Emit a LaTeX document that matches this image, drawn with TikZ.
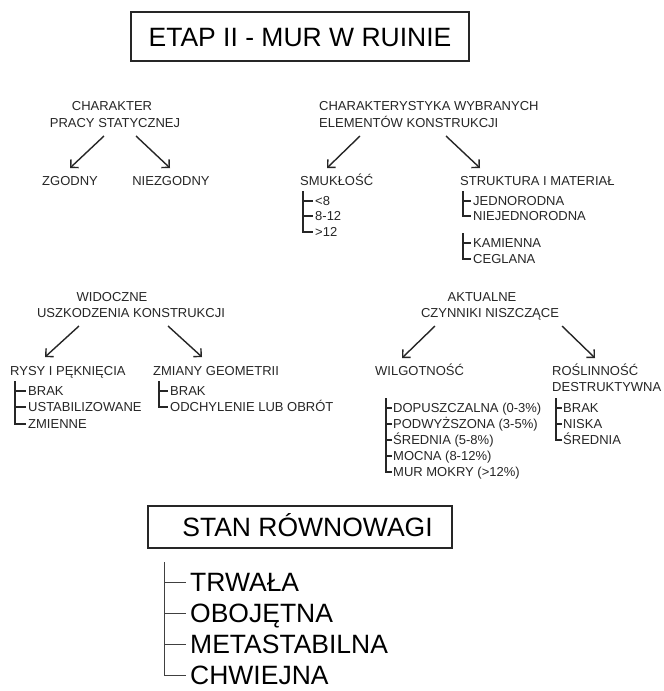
\documentclass[tikz,border=0pt]{standalone}
\usepackage{fontspec}
\setmainfont{Liberation Sans}
\usetikzlibrary{arrows.meta}
\begin{document}
\begin{tikzpicture}[x=1pt,y=-1pt,
  sm/.style={font=\fontsize{13}{15}\selectfont, text=black!85, inner sep=0pt, text height=9.3pt, text depth=0pt},
  big/.style={font=\fontsize{26.5}{30}\selectfont, text=black, inner sep=0pt, text height=19pt, text depth=0pt},
  box/.style={draw=black!85, line width=1.5pt},
  arr/.style={line width=1.4pt, draw=black!85, -{Straight Barb[angle=90:8pt]}},
  br/.style={line width=1.4pt, draw=black!85},
  brbig/.style={line width=1pt, draw=black!75},
  lw/.style={anchor=west}]
\useasboundingbox (0,0) rectangle (664,691);
\fill[white] (0,0) rectangle (664,691);

% title
\node[big, box, minimum width=338pt, minimum height=49pt] (title) at (300,36.5) {ETAP II - MUR W RUINIE};

% group 1
\node[sm] (ch1) at (112,106) {CHARAKTER};
\node[sm] (ch2) at (115,123) {PRACY STATYCZNEJ};
\node[sm] (zg) at (70,181) {ZGODNY};
\node[sm] (nzg) at (171,181) {NIEZGODNY};
\coordinate (a1s) at (104,136); \coordinate (a1e) at (70,168);
\coordinate (a2s) at (136,136); \coordinate (a2e) at (170,168);
\draw[arr] (a1s) -- (a1e);
\draw[arr] (a2s) -- (a2e);

% group 2
\node[sm,lw] (cw1) at (319,106) {CHARAKTERYSTYKA WYBRANYCH};
\node[sm,lw] (cw2) at (319,123) {ELEMENTÓW KONSTRUKCJI};
\coordinate (a3s) at (360,136); \coordinate (a3e) at (327,168);
\coordinate (a4s) at (446,136); \coordinate (a4e) at (480,168);
\draw[arr] (a3s) -- (a3e);
\draw[arr] (a4s) -- (a4e);
\node[sm,lw] (smu) at (300,181) {SMUKŁOŚĆ};
\coordinate (s0) at (303,191);
\node[sm,lw] (s1) at (315,201) {<8};
\node[sm,lw] (s2) at (315,216) {8-12};
\node[sm,lw] (s3) at (315,232) {>12};
\draw[br] (s0) |- ([xshift=-2pt]s3.west);
\foreach \n in {s1,s2} \draw[br] (s0 |- \n.west) -- ([xshift=-2pt]\n.west);

\node[sm,lw] (str) at (460,181) {STRUKTURA I MATERIAŁ};
\coordinate (t0) at (463,191);
\node[sm,lw] (t1) at (473,201) {JEDNORODNA};
\node[sm,lw] (t2) at (473,216) {NIEJEDNORODNA};
\draw[br] (t0) |- ([xshift=-2pt]t2.west);
\draw[br] (t0 |- t1.west) -- ([xshift=-2pt]t1.west);
\coordinate (u0) at (463,233);
\node[sm,lw] (u1) at (473,243) {KAMIENNA};
\node[sm,lw] (u2) at (473,259) {CEGLANA};
\draw[br] (u0) |- ([xshift=-2pt]u2.west);
\draw[br] (u0 |- u1.west) -- ([xshift=-2pt]u1.west);

% group 3
\node[sm] (wd1) at (112,297) {WIDOCZNE};
\node[sm] (wd2) at (131,313) {USZKODZENIA KONSTRUKCJI};
\coordinate (a5s) at (79,326); \coordinate (a5e) at (45,357);
\coordinate (a6s) at (168,326); \coordinate (a6e) at (202,357);
\draw[arr] (a5s) -- (a5e);
\draw[arr] (a6s) -- (a6e);
\node[sm,lw] (rys) at (10,371) {RYSY I PĘKNIĘCIA};
\coordinate (r0) at (15,381);
\node[sm,lw] (r1) at (28,391) {BRAK};
\node[sm,lw] (r2) at (28,407) {USTABILIZOWANE};
\node[sm,lw] (r3) at (28,424) {ZMIENNE};
\draw[br] (r0) |- ([xshift=-2pt]r3.west);
\foreach \n in {r1,r2} \draw[br] (r0 |- \n.west) -- ([xshift=-2pt]\n.west);
\node[sm,lw] (zmi) at (153,371) {ZMIANY GEOMETRII};
\coordinate (z0) at (159,381);
\node[sm,lw] (z1) at (170,391) {BRAK};
\node[sm,lw] (z2) at (170,407) {ODCHYLENIE LUB OBRÓT};
\draw[br] (z0) |- ([xshift=-2pt]z2.west);
\draw[br] (z0 |- z1.west) -- ([xshift=-2pt]z1.west);

% group 4
\node[sm] (ak1) at (482,297) {AKTUALNE};
\node[sm] (ak2) at (490,313) {CZYNNIKI NISZCZĄCE};
\coordinate (a7s) at (435,326); \coordinate (a7e) at (402,358);
\coordinate (a8s) at (562,326); \coordinate (a8e) at (595,358);
\draw[arr] (a7s) -- (a7e);
\draw[arr] (a8s) -- (a8e);
\node[sm,lw] (wil) at (375,371) {WILGOTNOŚĆ};
\coordinate (w0) at (386,398);
\node[sm,lw] (w1) at (393,408) {DOPUSZCZALNA (0-3\%)};
\node[sm,lw] (w2) at (393,424) {PODWYŻSZONA (3-5\%)};
\node[sm,lw] (w3) at (393,440) {ŚREDNIA (5-8\%)};
\node[sm,lw] (w4) at (393,456) {MOCNA (8-12\%)};
\node[sm,lw] (w5) at (393,472) {MUR MOKRY (>12\%)};
\draw[br] (w0) |- ([xshift=-1pt]w5.west);
\foreach \n in {w1,w2,w3,w4} \draw[br] (w0 |- \n.west) -- ([xshift=-1pt]\n.west);
\node[sm,lw] (ros1) at (552,371) {ROŚLINNOŚĆ};
\node[sm,lw] (ros2) at (552,387) {DESTRUKTYWNA};
\coordinate (v0) at (556,398);
\node[sm,lw] (v1) at (563,408) {BRAK};
\node[sm,lw] (v2) at (563,424) {NISKA};
\node[sm,lw] (v3) at (563,440) {ŚREDNIA};
\draw[br] (v0) |- ([xshift=-1pt]v3.west);
\foreach \n in {v1,v2} \draw[br] (v0 |- \n.west) -- ([xshift=-1pt]\n.west);

% group 5
\node[big, box, line width=1.2pt, minimum width=304pt, minimum height=42pt] (stan) at (300,527) {\hspace{15pt}STAN RÓWNOWAGI};
\coordinate (q0) at (164,562);
\node[big,lw] (q1) at (190,582) {TRWAŁA};
\node[big,lw] (q2) at (190,613) {OBOJĘTNA};
\node[big,lw] (q3) at (190,644) {METASTABILNA};
\node[big,lw] (q4) at (190,675) {CHWIEJNA};
\draw[brbig] (q0) |- ([xshift=-4pt]q4.west);
\foreach \n in {q1,q2,q3} \draw[brbig] (q0 |- \n.west) -- ([xshift=-4pt]\n.west);
\end{tikzpicture}
\end{document}
